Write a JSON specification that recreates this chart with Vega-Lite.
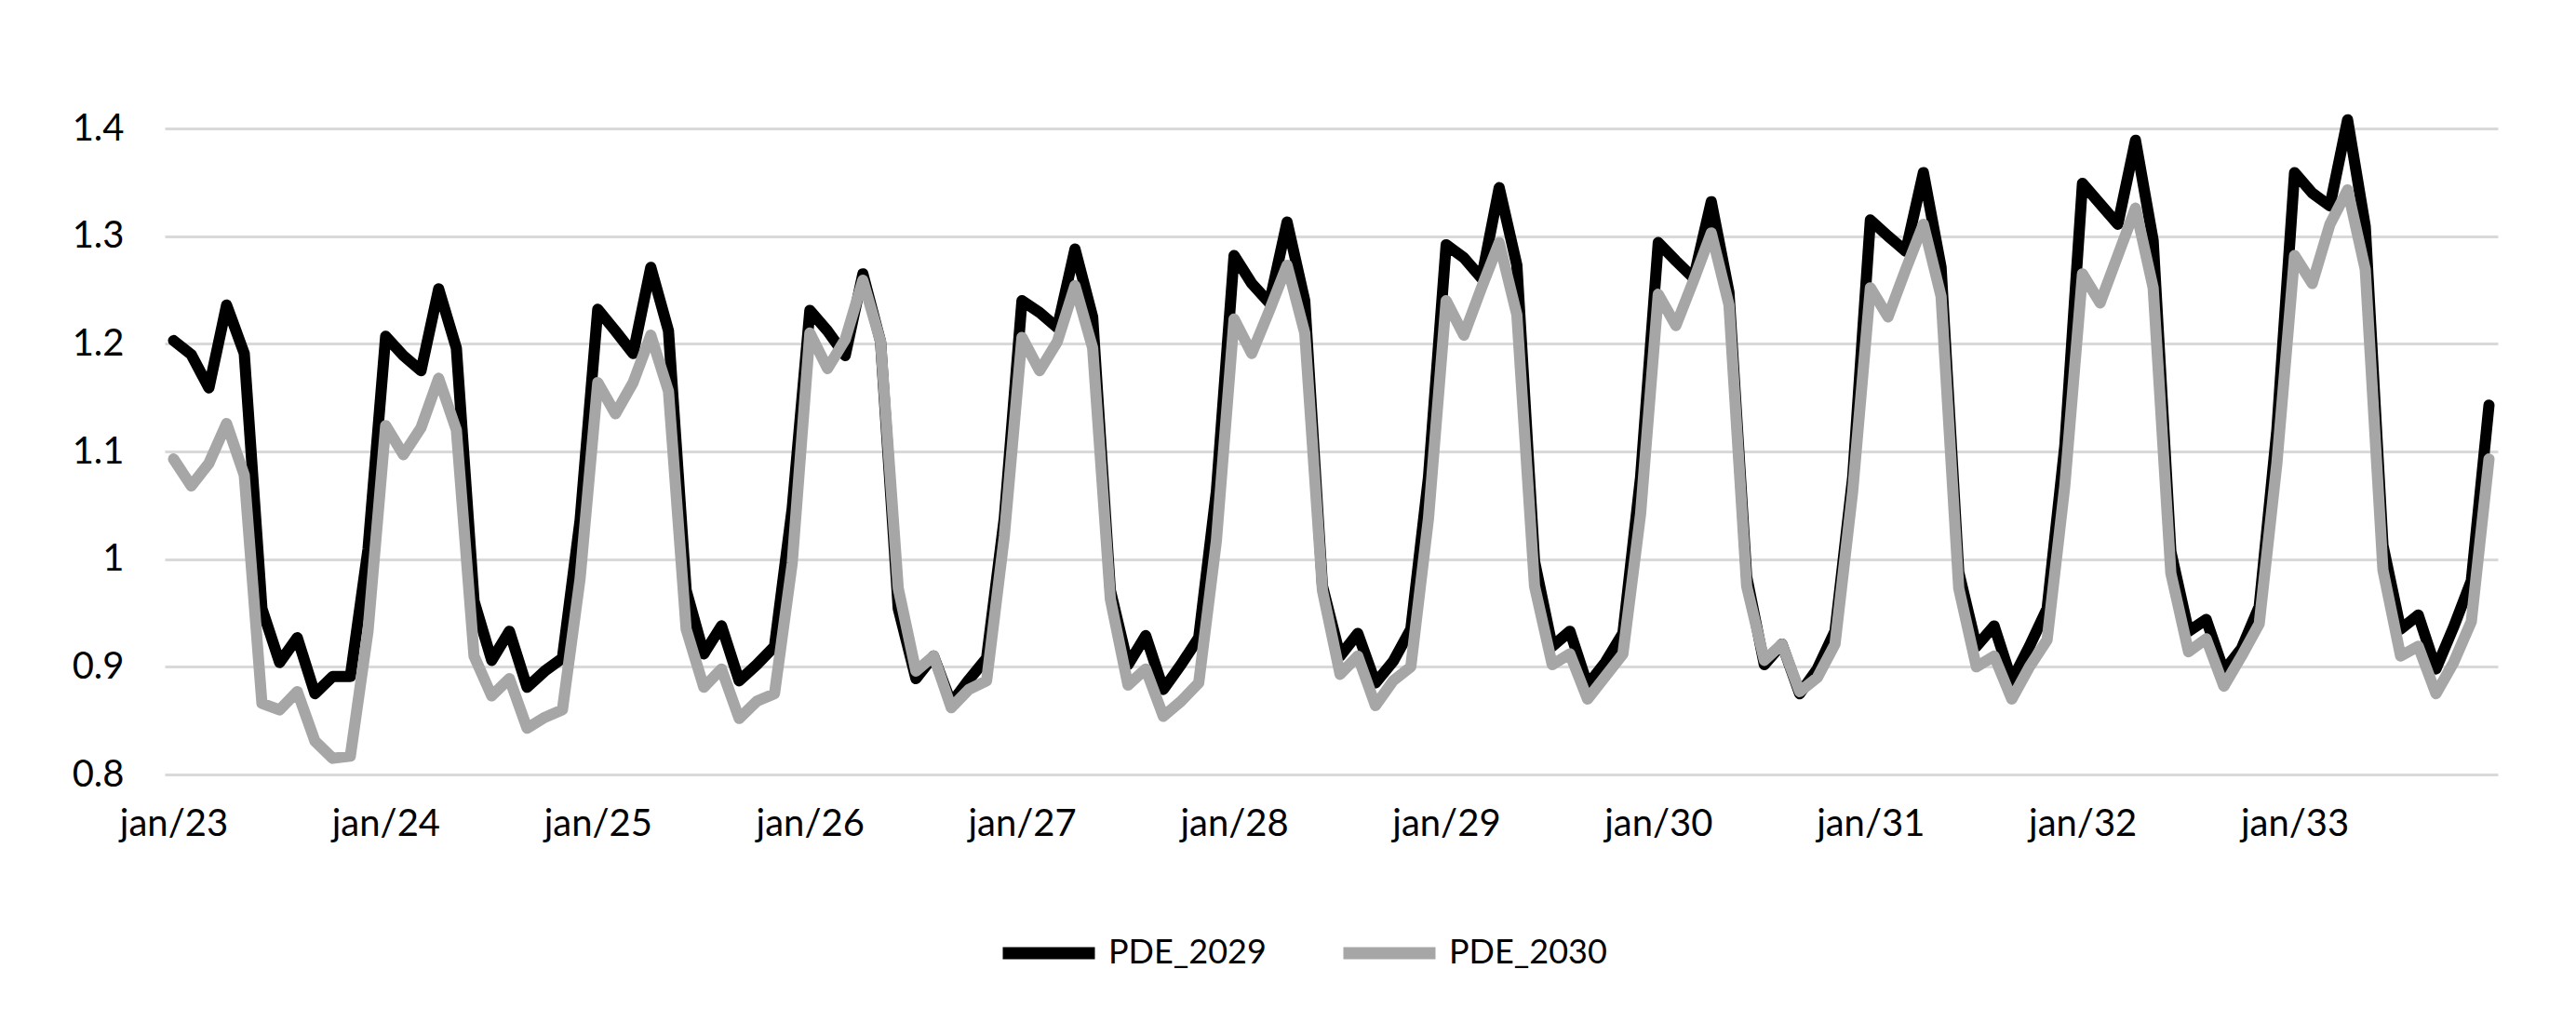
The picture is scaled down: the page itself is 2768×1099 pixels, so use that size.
{
  "$schema": "https://vega.github.io/schema/vega-lite/v6.json",
  "width": 2507,
  "height": 694,
  "autosize": {"type": "none"},
  "padding": {"left": 177, "top": 138, "right": 84, "bottom": 267},
  "background": "white",
  "config": {"view": {"stroke": null}, "font": "Lato"},
  "data": {"values": [
    {"mes": "jan/23", "PDE_2029": 1.203, "PDE_2030": 1.093},
    {"mes": "fev/23", "PDE_2029": 1.190, "PDE_2030": 1.068},
    {"mes": "mar/23", "PDE_2029": 1.159, "PDE_2030": 1.089},
    {"mes": "abr/23", "PDE_2029": 1.236, "PDE_2030": 1.126},
    {"mes": "mai/23", "PDE_2029": 1.191, "PDE_2030": 1.078},
    {"mes": "jun/23", "PDE_2029": 0.954, "PDE_2030": 0.866},
    {"mes": "jul/23", "PDE_2029": 0.904, "PDE_2030": 0.860},
    {"mes": "ago/23", "PDE_2029": 0.927, "PDE_2030": 0.877},
    {"mes": "set/23", "PDE_2029": 0.875, "PDE_2030": 0.831},
    {"mes": "out/23", "PDE_2029": 0.891, "PDE_2030": 0.815},
    {"mes": "nov/23", "PDE_2029": 0.891, "PDE_2030": 0.817},
    {"mes": "dez/23", "PDE_2029": 1.009, "PDE_2030": 0.933},
    {"mes": "jan/24", "PDE_2029": 1.207, "PDE_2030": 1.124},
    {"mes": "fev/24", "PDE_2029": 1.189, "PDE_2030": 1.097},
    {"mes": "mar/24", "PDE_2029": 1.175, "PDE_2030": 1.122},
    {"mes": "abr/24", "PDE_2029": 1.251, "PDE_2030": 1.168},
    {"mes": "mai/24", "PDE_2029": 1.196, "PDE_2030": 1.120},
    {"mes": "jun/24", "PDE_2029": 0.961, "PDE_2030": 0.910},
    {"mes": "jul/24", "PDE_2029": 0.906, "PDE_2030": 0.873},
    {"mes": "ago/24", "PDE_2029": 0.933, "PDE_2030": 0.889},
    {"mes": "set/24", "PDE_2029": 0.881, "PDE_2030": 0.843},
    {"mes": "out/24", "PDE_2029": 0.896, "PDE_2030": 0.853},
    {"mes": "nov/24", "PDE_2029": 0.908, "PDE_2030": 0.860},
    {"mes": "dez/24", "PDE_2029": 1.036, "PDE_2030": 0.982},
    {"mes": "jan/25", "PDE_2029": 1.232, "PDE_2030": 1.164},
    {"mes": "fev/25", "PDE_2029": 1.212, "PDE_2030": 1.135},
    {"mes": "mar/25", "PDE_2029": 1.191, "PDE_2030": 1.164},
    {"mes": "abr/25", "PDE_2029": 1.271, "PDE_2030": 1.208},
    {"mes": "mai/25", "PDE_2029": 1.212, "PDE_2030": 1.156},
    {"mes": "jun/25", "PDE_2029": 0.971, "PDE_2030": 0.935},
    {"mes": "jul/25", "PDE_2029": 0.912, "PDE_2030": 0.881},
    {"mes": "ago/25", "PDE_2029": 0.938, "PDE_2030": 0.898},
    {"mes": "set/25", "PDE_2029": 0.887, "PDE_2030": 0.852},
    {"mes": "out/25", "PDE_2029": 0.902, "PDE_2030": 0.868},
    {"mes": "nov/25", "PDE_2029": 0.919, "PDE_2030": 0.875},
    {"mes": "dez/25", "PDE_2029": 1.047, "PDE_2030": 0.996},
    {"mes": "jan/26", "PDE_2029": 1.231, "PDE_2030": 1.210},
    {"mes": "fev/26", "PDE_2029": 1.212, "PDE_2030": 1.177},
    {"mes": "mar/26", "PDE_2029": 1.189, "PDE_2030": 1.204},
    {"mes": "abr/26", "PDE_2029": 1.265, "PDE_2030": 1.259},
    {"mes": "mai/26", "PDE_2029": 1.202, "PDE_2030": 1.202},
    {"mes": "jun/26", "PDE_2029": 0.954, "PDE_2030": 0.973},
    {"mes": "jul/26", "PDE_2029": 0.889, "PDE_2030": 0.896},
    {"mes": "ago/26", "PDE_2029": 0.910, "PDE_2030": 0.910},
    {"mes": "set/26", "PDE_2029": 0.866, "PDE_2030": 0.862},
    {"mes": "out/26", "PDE_2029": 0.888, "PDE_2030": 0.879},
    {"mes": "nov/26", "PDE_2029": 0.908, "PDE_2030": 0.887},
    {"mes": "dez/26", "PDE_2029": 1.038, "PDE_2030": 1.021},
    {"mes": "jan/27", "PDE_2029": 1.240, "PDE_2030": 1.206},
    {"mes": "fev/27", "PDE_2029": 1.229, "PDE_2030": 1.175},
    {"mes": "mar/27", "PDE_2029": 1.215, "PDE_2030": 1.202},
    {"mes": "abr/27", "PDE_2029": 1.288, "PDE_2030": 1.254},
    {"mes": "mai/27", "PDE_2029": 1.225, "PDE_2030": 1.196},
    {"mes": "jun/27", "PDE_2029": 0.971, "PDE_2030": 0.963},
    {"mes": "jul/27", "PDE_2029": 0.902, "PDE_2030": 0.883},
    {"mes": "ago/27", "PDE_2029": 0.929, "PDE_2030": 0.898},
    {"mes": "set/27", "PDE_2029": 0.879, "PDE_2030": 0.854},
    {"mes": "out/27", "PDE_2029": 0.902, "PDE_2030": 0.868},
    {"mes": "nov/27", "PDE_2029": 0.927, "PDE_2030": 0.885},
    {"mes": "dez/27", "PDE_2029": 1.063, "PDE_2030": 1.017},
    {"mes": "jan/28", "PDE_2029": 1.282, "PDE_2030": 1.223},
    {"mes": "fev/28", "PDE_2029": 1.256, "PDE_2030": 1.191},
    {"mes": "mar/28", "PDE_2029": 1.238, "PDE_2030": 1.231},
    {"mes": "abr/28", "PDE_2029": 1.313, "PDE_2030": 1.273},
    {"mes": "mai/28", "PDE_2029": 1.240, "PDE_2030": 1.210},
    {"mes": "jun/28", "PDE_2029": 0.975, "PDE_2030": 0.971},
    {"mes": "jul/28", "PDE_2029": 0.910, "PDE_2030": 0.893},
    {"mes": "ago/28", "PDE_2029": 0.931, "PDE_2030": 0.910},
    {"mes": "set/28", "PDE_2029": 0.885, "PDE_2030": 0.864},
    {"mes": "out/28", "PDE_2029": 0.905, "PDE_2030": 0.887},
    {"mes": "nov/28", "PDE_2029": 0.935, "PDE_2030": 0.900},
    {"mes": "dez/28", "PDE_2029": 1.076, "PDE_2030": 1.038},
    {"mes": "jan/29", "PDE_2029": 1.292, "PDE_2030": 1.240},
    {"mes": "fev/29", "PDE_2029": 1.280, "PDE_2030": 1.208},
    {"mes": "mar/29", "PDE_2029": 1.261, "PDE_2030": 1.252},
    {"mes": "abr/29", "PDE_2029": 1.345, "PDE_2030": 1.294},
    {"mes": "mai/29", "PDE_2029": 1.273, "PDE_2030": 1.227},
    {"mes": "jun/29", "PDE_2029": 0.998, "PDE_2030": 0.975},
    {"mes": "jul/29", "PDE_2029": 0.919, "PDE_2030": 0.902},
    {"mes": "ago/29", "PDE_2029": 0.933, "PDE_2030": 0.912},
    {"mes": "set/29", "PDE_2029": 0.883, "PDE_2030": 0.870},
    {"mes": "out/29", "PDE_2029": 0.904, "PDE_2030": 0.891},
    {"mes": "nov/29", "PDE_2029": 0.931, "PDE_2030": 0.912},
    {"mes": "dez/29", "PDE_2029": 1.076, "PDE_2030": 1.042},
    {"mes": "jan/30", "PDE_2029": 1.294, "PDE_2030": 1.246},
    {"mes": "fev/30", "PDE_2029": 1.277, "PDE_2030": 1.217},
    {"mes": "mar/30", "PDE_2029": 1.261, "PDE_2030": 1.259},
    {"mes": "abr/30", "PDE_2029": 1.332, "PDE_2030": 1.303},
    {"mes": "mai/30", "PDE_2029": 1.248, "PDE_2030": 1.236},
    {"mes": "jun/30", "PDE_2029": 0.984, "PDE_2030": 0.975},
    {"mes": "jul/30", "PDE_2029": 0.902, "PDE_2030": 0.906},
    {"mes": "ago/30", "PDE_2029": 0.921, "PDE_2030": 0.921},
    {"mes": "set/30", "PDE_2029": 0.875, "PDE_2030": 0.877},
    {"mes": "out/30", "PDE_2029": 0.898, "PDE_2030": 0.890},
    {"mes": "nov/30", "PDE_2029": 0.933, "PDE_2030": 0.921},
    {"mes": "dez/30", "PDE_2029": 1.076, "PDE_2030": 1.063},
    {"mes": "jan/31", "PDE_2029": 1.315, "PDE_2030": 1.252},
    {"mes": "fev/31", "PDE_2029": 1.300, "PDE_2030": 1.225},
    {"mes": "mar/31", "PDE_2029": 1.286, "PDE_2030": 1.269},
    {"mes": "abr/31", "PDE_2029": 1.359, "PDE_2030": 1.311},
    {"mes": "mai/31", "PDE_2029": 1.271, "PDE_2030": 1.244},
    {"mes": "jun/31", "PDE_2029": 0.988, "PDE_2030": 0.973},
    {"mes": "jul/31", "PDE_2029": 0.919, "PDE_2030": 0.900},
    {"mes": "ago/31", "PDE_2029": 0.938, "PDE_2030": 0.910},
    {"mes": "set/31", "PDE_2029": 0.887, "PDE_2030": 0.870},
    {"mes": "out/31", "PDE_2029": 0.919, "PDE_2030": 0.900},
    {"mes": "nov/31", "PDE_2029": 0.954, "PDE_2030": 0.925},
    {"mes": "dez/31", "PDE_2029": 1.105, "PDE_2030": 1.068},
    {"mes": "jan/32", "PDE_2029": 1.349, "PDE_2030": 1.265},
    {"mes": "fev/32", "PDE_2029": 1.330, "PDE_2030": 1.238},
    {"mes": "mar/32", "PDE_2029": 1.311, "PDE_2030": 1.282},
    {"mes": "abr/32", "PDE_2029": 1.389, "PDE_2030": 1.326},
    {"mes": "mai/32", "PDE_2029": 1.296, "PDE_2030": 1.252},
    {"mes": "jun/32", "PDE_2029": 1.007, "PDE_2030": 0.987},
    {"mes": "jul/32", "PDE_2029": 0.933, "PDE_2030": 0.914},
    {"mes": "ago/32", "PDE_2029": 0.944, "PDE_2030": 0.926},
    {"mes": "set/32", "PDE_2029": 0.896, "PDE_2030": 0.882},
    {"mes": "out/32", "PDE_2029": 0.917, "PDE_2030": 0.910},
    {"mes": "nov/32", "PDE_2029": 0.956, "PDE_2030": 0.940},
    {"mes": "dez/32", "PDE_2029": 1.120, "PDE_2030": 1.089},
    {"mes": "jan/33", "PDE_2029": 1.359, "PDE_2030": 1.282},
    {"mes": "fev/33", "PDE_2029": 1.340, "PDE_2030": 1.256},
    {"mes": "mar/33", "PDE_2029": 1.328, "PDE_2030": 1.311},
    {"mes": "abr/33", "PDE_2029": 1.408, "PDE_2030": 1.343},
    {"mes": "mai/33", "PDE_2029": 1.309, "PDE_2030": 1.269},
    {"mes": "jun/33", "PDE_2029": 1.013, "PDE_2030": 0.990},
    {"mes": "jul/33", "PDE_2029": 0.935, "PDE_2030": 0.910},
    {"mes": "ago/33", "PDE_2029": 0.948, "PDE_2030": 0.919},
    {"mes": "set/33", "PDE_2029": 0.898, "PDE_2030": 0.875},
    {"mes": "out/33", "PDE_2029": 0.937, "PDE_2030": 0.904},
    {"mes": "nov/33", "PDE_2029": 0.980, "PDE_2030": 0.942},
    {"mes": "dez/33", "PDE_2029": 1.143, "PDE_2030": 1.093}
  ]},
  "transform": [{"fold": ["PDE_2029", "PDE_2030"], "as": ["serie", "valor"]}],
  "mark": {"type": "line", "strokeWidth": 12, "strokeJoin": "round", "strokeCap": "round", "clip": false},
  "encoding": {
    "x": {
      "field": "mes", "type": "ordinal", "sort": null,
      "scale": {"type": "point", "padding": 0.5},
      "axis": {
        "title": null,
        "labelExpr": "slice(datum.value, 0, 3) == 'jan' ? datum.value : ''",
        "labelAngle": 0, "labelOverlap": false, "ticks": false, "domain": false, "grid": false,
        "labelFontSize": 40, "labelPadding": 33, "labelColor": "#000000", "labelFont": "Lato"
      }
    },
    "y": {
      "field": "valor", "type": "quantitative",
      "scale": {"domain": [0.8, 1.4], "nice": false, "zero": false},
      "axis": {
        "title": null, "values": [0.8, 0.9, 1, 1.1, 1.2, 1.3, 1.4], "format": ".1~f",
        "domain": false, "ticks": false, "grid": true, "gridColor": "#d9d9d9", "gridWidth": 3,
        "labelFontSize": 40, "labelPadding": 44, "labelColor": "#000000", "labelFont": "Lato"
      }
    },
    "color": {
      "field": "serie", "type": "nominal",
      "scale": {"domain": ["PDE_2029", "PDE_2030"], "range": ["#000000", "#a6a6a6"]},
      "legend": {
        "title": null, "orient": "none", "legendX": 894, "legendY": 830, "direction": "horizontal",
        "symbolType": "stroke", "symbolSize": 9801, "symbolStrokeWidth": 13,
        "labelFontSize": 36, "labelOffset": 8, "labelLimit": 500, "columnPadding": 56, "labelColor": "#000000", "labelFont": "Lato"
      }
    }
  }
}
